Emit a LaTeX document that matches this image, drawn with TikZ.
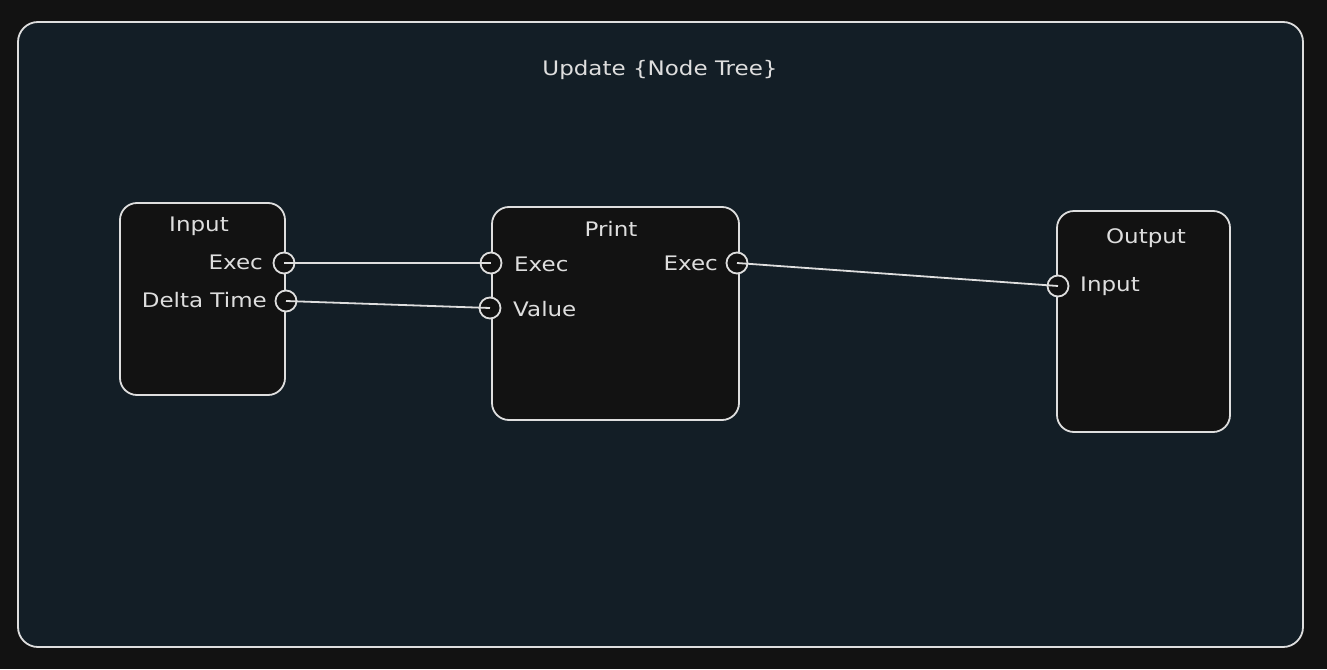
\documentclass[tikz,border=0pt]{standalone}
\usepackage{fontspec}
\setmainfont{DejaVu Sans}[FakeStretch=1.15]
\begin{document}
\begin{tikzpicture}[x=1pt,y=-1pt,
  ink/.style={draw=strokec,line width=1.8pt},
  nodebox/.style={ink,fill=nodefill,rounded corners=17pt},
  port/.style={circle,ink,fill=nodefill,minimum size=21pt,inner sep=0pt},
  lbl/.style={text=strokec,font=\fontsize{20}{23}\selectfont,inner sep=0pt},
  wire/.style={draw=strokec,line width=1.8pt}]
\definecolor{bgc}{HTML}{121212}
\definecolor{framefill}{HTML}{131E26}
\definecolor{strokec}{HTML}{DEDEDE}
\definecolor{nodefill}{HTML}{121212}
\fill[bgc] (0,0) rectangle (1327,669);
\useasboundingbox (0,0) rectangle (1327,669);
% frame
\draw[ink,fill=framefill,rounded corners=20pt] (18,22) rectangle (1303,647);
\node[lbl] (title) at (660,70) {Update \{Node Tree\}};
% boxes
\draw[nodebox] (120,203) rectangle (285,395);
\draw[nodebox] (492,207) rectangle (739,420);
\draw[nodebox] (1057,211) rectangle (1230,432);
\node[lbl] (tin) at (199,226) {Input};
\node[lbl] (tpr) at (611,229) {Print};
\node[lbl] (tout) at (1146,238) {Output};
% ports
\node[port] (inexec) at (284,263) {};
\node[port] (indt) at (286,301) {};
\node[port] (prexec) at (491,263) {};
\node[port] (prval) at (490,308) {};
\node[port] (prout) at (737,263) {};
\node[port] (outin) at (1058,286) {};
% labels
\node[lbl,anchor=east] (l1) at (263,262) {Exec};
\node[lbl,anchor=east] (l2) at (267,300) {Delta Time};
\node[lbl,anchor=west] (l3) at (514,264) {Exec};
\node[lbl,anchor=west] (l4) at (513,309) {Value};
\node[lbl,anchor=east] (l5) at (718,263) {Exec};
\node[lbl,anchor=west] (l6) at (1080,286) {Input};
% wires
\draw[wire] (inexec.center) -- (prexec.center);
\draw[wire] (indt.center) -- (prval.center);
\draw[wire] (prout.center) -- (outin.center);
\end{tikzpicture}
\end{document}
